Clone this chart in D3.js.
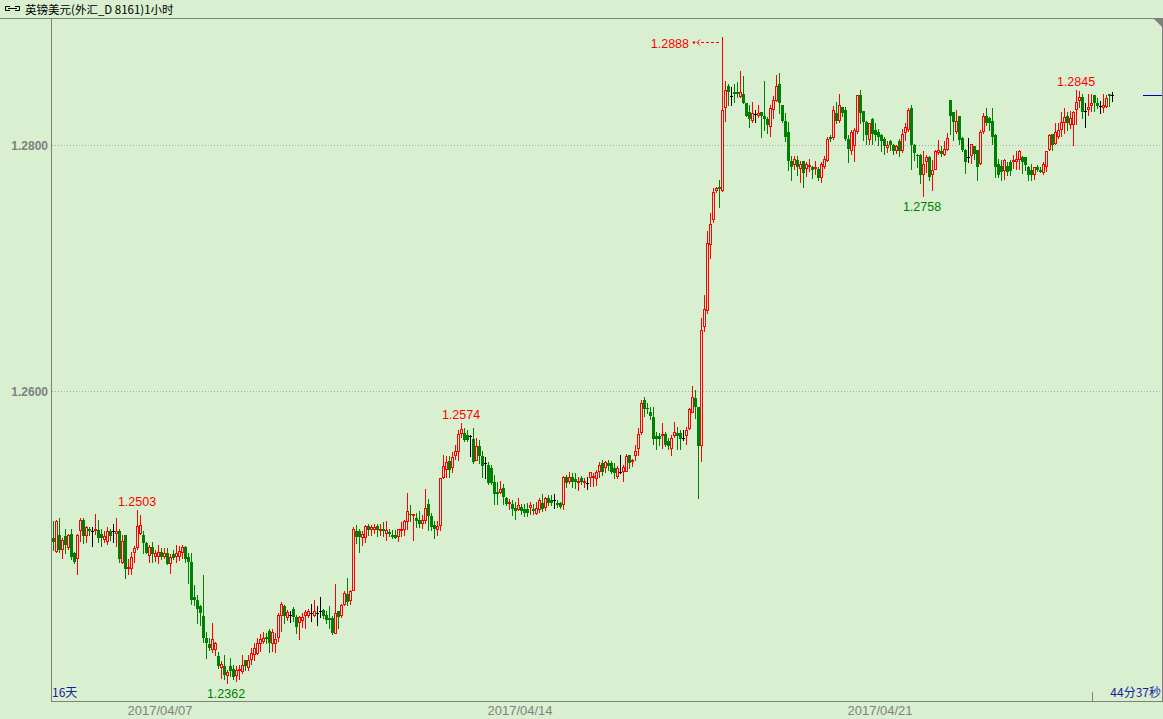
<!DOCTYPE html>
<html><head><meta charset="utf-8">
<script src="https://cdn.jsdelivr.net/npm/d3@7"></script>
<style>html,body{margin:0;padding:0;background:#d8f0d0;}svg{display:block;}</style>
</head><body><svg id="c" width="1163" height="719"></svg>
<script>
const title = "英镑美元(外汇_D 8161)1小时";
const periodText = "16天";
const timerText = "44分37秒";
const dayLabels = ["2017/04/07", "2017/04/14", "2017/04/21"];
const dayStartIndex = [36, 156, 276];
const yTicks = [1.2600, 1.2800];
const highMarkIndex = [28, 136, 341];
const lowMarkIndex = [58, 290];

const open = [
1.2480,1.2469,1.2483,1.2471,1.2482,1.2472,1.2484,1.2468,1.2463,1.2486,
1.2495,1.2482,1.2488,1.2486,1.2486,1.2487,1.2484,1.2479,1.2477,1.2486,
1.2486,1.2484,1.2486,1.2460,1.2483,1.2455,1.2455,1.2468,1.2472,1.2484,
1.2483,1.2476,1.2466,1.2473,1.2465,1.2465,1.2469,1.2465,1.2468,1.2459,
1.2467,1.2465,1.2465,1.2468,1.2473,1.2465,1.2461,1.2432,1.2430,1.2425,
1.2417,1.2399,1.2394,1.2389,1.2389,1.2384,1.2375,1.2376,1.2368,1.2376,
1.2374,1.2368,1.2372,1.2371,1.2381,1.2375,1.2381,1.2385,1.2386,1.2394,
1.2396,1.2400,1.2405,1.2394,1.2394,1.2399,1.2417,1.2425,1.2415,1.2418,
1.2423,1.2416,1.2411,1.2413,1.2417,1.2417,1.2419,1.2417,1.2419,1.2421,
1.2422,1.2418,1.2415,1.2415,1.2402,1.2421,1.2417,1.2426,1.2435,1.2429,
1.2437,1.2486,1.2486,1.2480,1.2480,1.2490,1.2487,1.2487,1.2490,1.2486,
1.2488,1.2484,1.2485,1.2483,1.2483,1.2481,1.2486,1.2487,1.2493,1.2500,
1.2498,1.2497,1.2495,1.2492,1.2494,1.2508,1.2498,1.2491,1.2487,1.2490,
1.2529,1.2536,1.2543,1.2537,1.2547,1.2550,1.2565,1.2566,1.2564,1.2563,
1.2561,1.2543,1.2555,1.2547,1.2541,1.2540,1.2537,1.2526,1.2518,1.2517,
1.2521,1.2513,1.2508,1.2508,1.2505,1.2503,1.2506,1.2504,1.2504,1.2505,
1.2504,1.2500,1.2503,1.2509,1.2505,1.2513,1.2511,1.2511,1.2509,1.2509,
1.2507,1.2530,1.2526,1.2530,1.2528,1.2525,1.2529,1.2525,1.2525,1.2529,
1.2529,1.2528,1.2534,1.2541,1.2537,1.2541,1.2541,1.2537,1.2530,1.2534,
1.2534,1.2534,1.2548,1.2542,1.2547,1.2553,1.2566,1.2593,1.2586,1.2583,
1.2579,1.2563,1.2563,1.2563,1.2565,1.2559,1.2553,1.2563,1.2566,1.2566,
1.2562,1.2563,1.2569,1.2582,1.2594,1.2587,1.2555,1.2652,1.2665,1.2719,
1.2739,1.2763,1.2766,1.2763,1.2830,1.2848,1.2840,1.2843,1.2843,1.2839,
1.2842,1.2834,1.2827,1.2820,1.2825,1.2824,1.2827,1.2824,1.2821,1.2815,
1.2829,1.2836,1.2850,1.2833,1.2820,1.2811,1.2787,1.2784,1.2788,1.2781,
1.2787,1.2781,1.2782,1.2782,1.2781,1.2781,1.2773,1.2782,1.2787,1.2807,
1.2806,1.2826,1.2820,1.2831,1.2829,1.2805,1.2795,1.2799,1.2811,1.2841,
1.2828,1.2819,1.2804,1.2821,1.2812,1.2811,1.2808,1.2805,1.2798,1.2803,
1.2800,1.2795,1.2803,1.2795,1.2810,1.2812,1.2830,1.2800,1.2792,1.2792,
1.2776,1.2786,1.2790,1.2776,1.2780,1.2794,1.2795,1.2792,1.2796,1.2837,
1.2827,1.2811,1.2824,1.2806,1.2796,1.2790,1.2791,1.2799,1.2796,1.2785,
1.2811,1.2824,1.2822,1.2820,1.2808,1.2785,1.2783,1.2779,1.2783,1.2786,
1.2786,1.2786,1.2788,1.2790,1.2790,1.2782,1.2780,1.2776,1.2782,1.2780,
1.2777,1.2782,1.2796,1.2809,1.2801,1.2807,1.2812,1.2818,1.2824,1.2816,
1.2816,1.2829,1.2836,1.2839,1.2828,1.2829,1.2832,1.2841,1.2834,1.2832,
1.2830,1.2831,1.2842,1.2841];

const high = [
1.2494,1.2495,1.2497,1.2480,1.2488,1.2484,1.2488,1.2469,1.2484,1.2497,
1.2497,1.2490,1.2489,1.2489,1.2500,1.2495,1.2488,1.2486,1.2489,1.2488,
1.2492,1.2497,1.2488,1.2483,1.2483,1.2463,1.2469,1.2474,1.2503,1.2499,
1.2486,1.2477,1.2475,1.2477,1.2471,1.2475,1.2472,1.2472,1.2472,1.2467,
1.2471,1.2475,1.2474,1.2475,1.2474,1.2468,1.2468,1.2442,1.2434,1.2426,
1.2450,1.2404,1.2399,1.2411,1.2396,1.2388,1.2380,1.2385,1.2373,1.2383,
1.2377,1.2376,1.2377,1.2385,1.2381,1.2385,1.2391,1.2395,1.2399,1.2402,
1.2404,1.2403,1.2406,1.2406,1.2403,1.2419,1.2428,1.2426,1.2422,1.2421,
1.2424,1.2418,1.2417,1.2419,1.2422,1.2423,1.2427,1.2430,1.2425,1.2432,
1.2423,1.2421,1.2425,1.2417,1.2443,1.2421,1.2427,1.2437,1.2448,1.2438,
1.2489,1.2491,1.2488,1.2486,1.2491,1.2492,1.2491,1.2492,1.2492,1.2492,
1.2493,1.2494,1.2488,1.2487,1.2487,1.2488,1.2493,1.2495,1.2517,1.2507,
1.2500,1.2501,1.2502,1.2499,1.2520,1.2512,1.2501,1.2494,1.2494,1.2529,
1.2548,1.2547,1.2547,1.2550,1.2556,1.2568,1.2574,1.2570,1.2568,1.2564,
1.2570,1.2562,1.2560,1.2551,1.2546,1.2542,1.2540,1.2532,1.2526,1.2527,
1.2524,1.2514,1.2512,1.2511,1.2510,1.2513,1.2508,1.2508,1.2509,1.2510,
1.2508,1.2510,1.2513,1.2516,1.2514,1.2515,1.2515,1.2516,1.2511,1.2510,
1.2531,1.2532,1.2534,1.2533,1.2533,1.2530,1.2531,1.2529,1.2530,1.2534,
1.2533,1.2536,1.2542,1.2544,1.2543,1.2544,1.2543,1.2541,1.2539,1.2548,
1.2540,1.2549,1.2548,1.2545,1.2556,1.2570,1.2593,1.2595,1.2590,1.2587,
1.2587,1.2567,1.2566,1.2574,1.2567,1.2562,1.2564,1.2575,1.2571,1.2568,
1.2568,1.2571,1.2586,1.2604,1.2601,1.2587,1.2659,1.2678,1.2730,1.2745,
1.2765,1.2766,1.2772,1.2888,1.2852,1.2850,1.2847,1.2850,1.2851,1.2860,
1.2856,1.2834,1.2833,1.2835,1.2829,1.2833,1.2827,1.2852,1.2823,1.2833,
1.2840,1.2857,1.2859,1.2833,1.2826,1.2819,1.2791,1.2791,1.2791,1.2787,
1.2787,1.2786,1.2789,1.2783,1.2787,1.2782,1.2786,1.2791,1.2807,1.2808,
1.2832,1.2835,1.2842,1.2831,1.2831,1.2808,1.2812,1.2814,1.2841,1.2845,
1.2828,1.2820,1.2818,1.2822,1.2818,1.2813,1.2809,1.2807,1.2803,1.2804,
1.2801,1.2800,1.2805,1.2813,1.2818,1.2830,1.2833,1.2801,1.2793,1.2793,
1.2795,1.2792,1.2791,1.2788,1.2796,1.2804,1.2799,1.2803,1.2810,1.2837,
1.2827,1.2829,1.2824,1.2807,1.2797,1.2806,1.2801,1.2799,1.2796,1.2812,
1.2826,1.2830,1.2823,1.2830,1.2809,1.2789,1.2788,1.2789,1.2786,1.2788,
1.2792,1.2795,1.2796,1.2791,1.2790,1.2783,1.2785,1.2782,1.2784,1.2782,
1.2786,1.2795,1.2809,1.2809,1.2818,1.2818,1.2827,1.2830,1.2827,1.2828,
1.2828,1.2845,1.2844,1.2842,1.2834,1.2842,1.2842,1.2841,1.2838,1.2836,
1.2842,1.2841,1.2842,1.2843];

const low = [
1.2471,1.2468,1.2469,1.2463,1.2468,1.2471,1.2463,1.2460,1.2450,1.2477,
1.2476,1.2476,1.2483,1.2474,1.2483,1.2477,1.2474,1.2476,1.2475,1.2479,
1.2477,1.2473,1.2461,1.2459,1.2448,1.2450,1.2450,1.2460,1.2471,1.2483,
1.2468,1.2468,1.2460,1.2461,1.2461,1.2459,1.2463,1.2463,1.2459,1.2451,
1.2463,1.2460,1.2462,1.2463,1.2461,1.2444,1.2427,1.2426,1.2411,1.2410,
1.2396,1.2383,1.2389,1.2387,1.2384,1.2375,1.2366,1.2366,1.2362,1.2368,
1.2366,1.2363,1.2365,1.2370,1.2373,1.2372,1.2377,1.2380,1.2385,1.2388,
1.2394,1.2395,1.2388,1.2388,1.2387,1.2396,1.2404,1.2411,1.2413,1.2412,
1.2413,1.2403,1.2397,1.2407,1.2406,1.2415,1.2413,1.2416,1.2410,1.2416,
1.2415,1.2411,1.2407,1.2402,1.2402,1.2407,1.2415,1.2425,1.2426,1.2426,
1.2437,1.2476,1.2469,1.2474,1.2476,1.2483,1.2482,1.2484,1.2482,1.2482,
1.2482,1.2478,1.2482,1.2480,1.2480,1.2477,1.2481,1.2482,1.2487,1.2494,
1.2478,1.2489,1.2489,1.2488,1.2492,1.2487,1.2487,1.2480,1.2482,1.2486,
1.2528,1.2529,1.2530,1.2533,1.2544,1.2543,1.2562,1.2559,1.2559,1.2547,
1.2541,1.2543,1.2541,1.2530,1.2529,1.2524,1.2524,1.2508,1.2508,1.2516,
1.2508,1.2507,1.2503,1.2499,1.2496,1.2502,1.2500,1.2498,1.2498,1.2499,
1.2500,1.2499,1.2501,1.2502,1.2502,1.2507,1.2507,1.2505,1.2506,1.2505,
1.2503,1.2522,1.2524,1.2522,1.2521,1.2519,1.2524,1.2521,1.2520,1.2522,
1.2522,1.2523,1.2529,1.2532,1.2533,1.2536,1.2533,1.2529,1.2528,1.2533,
1.2526,1.2534,1.2537,1.2538,1.2543,1.2547,1.2564,1.2580,1.2582,1.2577,
1.2557,1.2553,1.2556,1.2553,1.2555,1.2553,1.2547,1.2562,1.2553,1.2553,
1.2560,1.2556,1.2568,1.2582,1.2578,1.2513,1.2542,1.2648,1.2663,1.2707,
1.2737,1.2761,1.2750,1.2762,1.2819,1.2833,1.2833,1.2835,1.2839,1.2838,
1.2834,1.2824,1.2815,1.2818,1.2819,1.2822,1.2807,1.2812,1.2810,1.2807,
1.2821,1.2835,1.2826,1.2819,1.2803,1.2780,1.2772,1.2780,1.2776,1.2769,
1.2766,1.2774,1.2778,1.2773,1.2776,1.2772,1.2769,1.2781,1.2786,1.2803,
1.2804,1.2818,1.2818,1.2824,1.2804,1.2786,1.2792,1.2786,1.2809,1.2818,
1.2804,1.2801,1.2800,1.2801,1.2804,1.2800,1.2795,1.2793,1.2794,1.2796,
1.2793,1.2793,1.2791,1.2794,1.2803,1.2811,1.2781,1.2788,1.2782,1.2769,
1.2758,1.2777,1.2772,1.2763,1.2780,1.2792,1.2791,1.2791,1.2795,1.2809,
1.2804,1.2809,1.2801,1.2795,1.2777,1.2786,1.2785,1.2789,1.2772,1.2784,
1.2809,1.2816,1.2812,1.2801,1.2774,1.2774,1.2772,1.2772,1.2776,1.2776,
1.2781,1.2780,1.2780,1.2777,1.2780,1.2772,1.2772,1.2772,1.2779,1.2778,
1.2776,1.2778,1.2795,1.2796,1.2800,1.2805,1.2807,1.2809,1.2812,1.2813,
1.2799,1.2816,1.2830,1.2822,1.2815,1.2824,1.2827,1.2828,1.2830,1.2826,
1.2826,1.2830,1.2832,1.2836];

const close = [
1.2477,1.2494,1.2471,1.2479,1.2475,1.2483,1.2465,1.2461,1.2483,1.2495,
1.2482,1.2489,1.2486,1.2486,1.2487,1.2480,1.2480,1.2482,1.2486,1.2482,
1.2486,1.2486,1.2463,1.2478,1.2455,1.2457,1.2465,1.2472,1.2490,1.2491,
1.2476,1.2468,1.2473,1.2467,1.2468,1.2469,1.2465,1.2468,1.2459,1.2465,
1.2464,1.2468,1.2470,1.2473,1.2463,1.2461,1.2430,1.2430,1.2423,1.2419,
1.2399,1.2395,1.2391,1.2398,1.2395,1.2376,1.2378,1.2369,1.2371,1.2372,
1.2367,1.2373,1.2373,1.2377,1.2376,1.2381,1.2387,1.2391,1.2395,1.2398,
1.2399,1.2398,1.2395,1.2404,1.2398,1.2418,1.2427,1.2417,1.2420,1.2418,
1.2416,1.2408,1.2416,1.2416,1.2420,1.2421,1.2419,1.2421,1.2419,1.2421,
1.2417,1.2414,1.2414,1.2403,1.2419,1.2416,1.2426,1.2436,1.2428,1.2437,
1.2488,1.2481,1.2481,1.2484,1.2490,1.2487,1.2489,1.2489,1.2487,1.2487,
1.2486,1.2487,1.2484,1.2481,1.2480,1.2488,1.2488,1.2494,1.2502,1.2499,
1.2499,1.2494,1.2492,1.2495,1.2505,1.2498,1.2489,1.2488,1.2490,1.2529,
1.2539,1.2542,1.2536,1.2546,1.2551,1.2565,1.2569,1.2560,1.2560,1.2563,
1.2542,1.2555,1.2547,1.2539,1.2541,1.2525,1.2525,1.2516,1.2516,1.2520,
1.2514,1.2508,1.2510,1.2504,1.2502,1.2507,1.2502,1.2501,1.2501,1.2507,
1.2502,1.2505,1.2511,1.2504,1.2513,1.2509,1.2509,1.2511,1.2507,1.2506,
1.2530,1.2525,1.2530,1.2526,1.2526,1.2527,1.2526,1.2526,1.2525,1.2534,
1.2530,1.2534,1.2540,1.2534,1.2542,1.2539,1.2534,1.2533,1.2537,1.2534,
1.2538,1.2547,1.2541,1.2544,1.2551,1.2565,1.2590,1.2585,1.2585,1.2580,
1.2561,1.2561,1.2561,1.2564,1.2556,1.2555,1.2562,1.2567,1.2563,1.2561,
1.2562,1.2568,1.2585,1.2595,1.2587,1.2555,1.2650,1.2667,1.2720,1.2736,
1.2762,1.2765,1.2764,1.2829,1.2845,1.2843,1.2840,1.2842,1.2842,1.2843,
1.2834,1.2824,1.2821,1.2826,1.2825,1.2826,1.2824,1.2821,1.2816,1.2830,
1.2837,1.2848,1.2834,1.2820,1.2807,1.2787,1.2782,1.2789,1.2782,1.2785,
1.2777,1.2785,1.2783,1.2780,1.2782,1.2773,1.2785,1.2789,1.2805,1.2805,
1.2829,1.2820,1.2833,1.2826,1.2805,1.2797,1.2811,1.2812,1.2841,1.2826,
1.2819,1.2808,1.2818,1.2809,1.2808,1.2807,1.2803,1.2799,1.2800,1.2800,
1.2795,1.2799,1.2795,1.2809,1.2815,1.2829,1.2800,1.2794,1.2791,1.2776,
1.2785,1.2790,1.2774,1.2780,1.2795,1.2796,1.2793,1.2797,1.2806,1.2824,
1.2819,1.2820,1.2804,1.2796,1.2786,1.2790,1.2801,1.2793,1.2782,1.2811,
1.2824,1.2818,1.2818,1.2807,1.2782,1.2776,1.2778,1.2788,1.2778,1.2779,
1.2788,1.2789,1.2795,1.2786,1.2784,1.2776,1.2776,1.2782,1.2780,1.2778,
1.2785,1.2795,1.2808,1.2800,1.2811,1.2812,1.2819,1.2823,1.2818,1.2822,
1.2827,1.2835,1.2839,1.2827,1.2828,1.2831,1.2834,1.2834,1.2832,1.2832,
1.2833,1.2838,1.2840,1.2841];

const C = {
  bg: "#d8f0d0", frame: "#808080", grid: "#a4aca0", up: "#ff0000", down: "#008000",
  flat: "#000000", axisText: "#808080", info: "#1c1ca0", title: "#000000", price: "#0000c0"
};
const fontLatin = "'Liberation Sans', Arial, sans-serif";
const fontCJK = "'Noto Sans CJK SC', 'Noto Sans', sans-serif";

const svg = d3.select("#c");
const W = 1163, H = 719;
const plot = {left: 51, top: 18, right: 1162, bottom: 701};
const N = close.length;
const fmt = d3.format(".4f");

const x = d3.scaleLinear().domain([0, N - 1]).range([53, 1112]);
const y = d3.scaleLinear().domain([d3.min(low), d3.max(high)]).range([683.5, 37]);
const px = i => Math.round(x(i));
const py = v => Math.round(y(v));

svg.append("rect").attr("width", W).attr("height", H).attr("fill", C.bg);

// grid
svg.append("g").selectAll("line").data(yTicks).join("line")
  .attr("x1", plot.left + 1).attr("x2", plot.right - 1)
  .attr("y1", d => py(d) + 0.5).attr("y2", d => py(d) + 0.5)
  .attr("stroke", C.grid).attr("stroke-width", 1).attr("stroke-dasharray", "1,2");

// y axis labels
const yAxis = svg.append("g").attr("transform", `translate(${plot.left - 3},0)`)
  .call(d3.axisLeft(y).tickValues(yTicks).tickFormat(fmt).tickSize(0).tickPadding(0));
yAxis.select(".domain").remove();
yAxis.selectAll("text").attr("fill", C.axisText).attr("font-family", fontLatin)
  .attr("font-size", 12).attr("font-weight", "bold").attr("dy", "0.36em");

// x axis labels
const xAxis = svg.append("g").attr("transform", `translate(-1.5,${plot.bottom})`)
  .call(d3.axisBottom(x).tickValues(dayStartIndex)
    .tickFormat((d, k) => dayLabels[k]).tickSize(0).tickPadding(5));
xAxis.select(".domain").remove();
xAxis.selectAll("text").attr("fill", C.axisText).attr("font-family", fontLatin).attr("font-size", 13);

// frame
const fr = svg.append("g").attr("stroke", C.frame).attr("stroke-width", 1);
fr.append("line").attr("x1", 0).attr("x2", W).attr("y1", plot.top + 0.5).attr("y2", plot.top + 0.5);
fr.append("line").attr("x1", plot.left + 0.5).attr("x2", plot.left + 0.5).attr("y1", plot.top).attr("y2", plot.bottom + 1);
fr.append("line").attr("x1", plot.left).attr("x2", plot.right + 1).attr("y1", plot.bottom + 0.5).attr("y2", plot.bottom + 0.5);
fr.append("line").attr("x1", plot.right + 0.5).attr("x2", plot.right + 0.5).attr("y1", plot.top).attr("y2", plot.bottom + 1);
svg.append("path").attr("d", `M${plot.right - 9},${plot.top}L${plot.right + 1},${plot.top}L${plot.right + 1},${plot.top + 10}Z`).attr("fill", C.frame);
fr.append("line").attr("x1", 1092.5).attr("x2", 1092.5).attr("y1", plot.bottom - 9).attr("y2", plot.bottom);

// candles
const data = d3.range(N).map(i => ({i, o: open[i], h: high[i], l: low[i], c: close[i]}));
const cg = svg.append("g");
data.forEach(d => {
  const cx = px(d.i);
  const top = py(Math.max(d.o, d.c)), bot = py(Math.min(d.o, d.c));
  const yh = py(d.h), yl = py(d.l);
  const col = d.c > d.o ? C.up : (d.c < d.o ? C.down : C.flat);
  if (d.c > d.o) {
    const t = Math.min(top, bot - 2);
    cg.append("line").attr("x1", cx + 0.5).attr("x2", cx + 0.5).attr("y1", yh).attr("y2", t).attr("stroke", col);
    cg.append("line").attr("x1", cx + 0.5).attr("x2", cx + 0.5).attr("y1", bot).attr("y2", Math.max(yl, bot)).attr("stroke", col);
    cg.append("rect").attr("x", cx - 0.5).attr("y", t + 0.5).attr("width", 2).attr("height", Math.max(1, bot - t - 1))
      .attr("fill", "none").attr("stroke", col).attr("stroke-width", 1);
  } else if (d.c < d.o) {
    cg.append("line").attr("x1", cx + 0.5).attr("x2", cx + 0.5).attr("y1", yh).attr("y2", yl + 1).attr("stroke", col);
    cg.append("rect").attr("x", cx - 1).attr("y", top).attr("width", 3).attr("height", Math.max(1, bot - top))
      .attr("fill", col);
  } else {
    cg.append("line").attr("x1", cx + 0.5).attr("x2", cx + 0.5).attr("y1", yh).attr("y2", yl + 1).attr("stroke", col);
    cg.append("line").attr("x1", cx - 1).attr("x2", cx + 2).attr("y1", top + 0.5).attr("y2", top + 0.5).attr("stroke", col);
  }
});

// extreme labels
const lab = svg.append("g").attr("font-family", fontLatin).attr("font-size", 12.5).attr("text-anchor", "middle");
lab.selectAll("text.h").data(highMarkIndex).join("text").attr("class", "h")
  .attr("x", i => x(i)).attr("y", i => y(high[i]) - 4).attr("fill", C.up).text(i => fmt(high[i]));
lab.selectAll("text.l").data(lowMarkIndex).join("text").attr("class", "l")
  .attr("x", i => x(i) - 1).attr("y", i => y(low[i]) + 14).attr("fill", C.down).text(i => fmt(low[i]));

// max marker with arrow
const maxV = d3.max(high), maxI = high.indexOf(maxV);
const ay = Math.round(y(maxV)) + 5.5;
const ax = px(maxI);
svg.append("text").attr("x", ax - 33).attr("y", y(maxV) + 11).attr("text-anchor", "end")
  .attr("font-family", fontLatin).attr("font-size", 12.5).attr("fill", C.up).text(fmt(maxV));
svg.append("line").attr("x1", ax - 3).attr("x2", ax - 24).attr("y1", ay).attr("y2", ay)
  .attr("stroke", C.up).attr("stroke-dasharray", "3,2");
svg.append("path").attr("d", `M${ax - 22},${ay - 3}L${ax - 25},${ay}L${ax - 22},${ay + 3}`)
  .attr("fill", "none").attr("stroke", C.up);
svg.append("circle").attr("cx", ax - 28).attr("cy", ay).attr("r", 1.3).attr("fill", C.up);

// current price marker
const lastY = py(close[N - 1]) + 0.5;
svg.append("line").attr("x1", 1143).attr("x2", plot.right).attr("y1", lastY).attr("y2", lastY)
  .attr("stroke", C.price).attr("stroke-width", 1);

// title
const ic = svg.append("g").attr("fill", "none").attr("stroke", "#000").attr("stroke-width", 1);
ic.append("path").attr("d", "M10,6.5H5.5V10.5H10");
ic.append("path").attr("d", "M15,6.5H19.5V10.5H15");
ic.append("path").attr("d", "M8,8.5H17");
svg.append("text").attr("x", 25).attr("y", 14).attr("font-family", fontCJK).attr("font-size", 11.5)
  .attr("fill", C.title).text(title);

// info texts
svg.append("text").attr("x", plot.left + 1).attr("y", 697).attr("font-family", fontCJK).attr("font-size", 12)
  .attr("fill", C.info).text(periodText);
svg.append("text").attr("x", plot.right - 1).attr("y", 697).attr("text-anchor", "end").attr("font-family", fontCJK)
  .attr("font-size", 12).attr("fill", C.info).text(timerText);
</script>
</body></html>
